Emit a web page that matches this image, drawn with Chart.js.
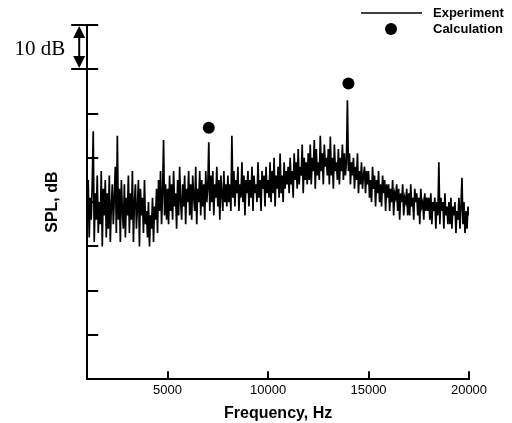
<!DOCTYPE html>
<html>
<head>
<meta charset="utf-8">
<script src="https://cdn.jsdelivr.net/npm/chart.js@4.4.1/dist/chart.umd.min.js"></script>
<style>
  html, body { margin: 0; padding: 0; background: #fff; }
  #wrap { width: 512px; height: 423px; }
</style>
</head>
<body>
<div id="wrap"><canvas id="c" width="512" height="423"></canvas></div>
<script>
// Frequency sampling grid of the measured spectrum (Hz)
const freqStart = 1000;
const freqStep = 50;
// Measured SPL (dB), one value per 50 Hz from 1000 Hz to 20000 Hz
const splExperiment = [
  38,45,32,41,36,44,56,31,42,36,46,33,40,35,47,30,43,37,45,32,
  42,34,46,31,39,44,35,41,48,33,55,36,43,31,45,38,34,44,32,41,
  37,46,33,42,36,47,31,40,44,34,39,45,30,43,37,41,33,45,35,38,
  32,40,30,37,34,41,31,39,36,43,33,45,38,47,35,42,54,37,44,36,
  43,35,46,38,44,36,47,39,42,34,45,37,48,40,36,44,39,46,35,43,
  40,47,37,44,36,46,41,38,48,35,43,40,47,37,45,39,44,36,47,40,
  43,53.5,38,46,40,47,37,44,41,48,39,45,36,46,42,38,47,40,44,39,
  46,40,44,38,55,41,47,39,45,42,48,38,44,41,49,40,46,37,45,42,
  47,39,45,41,48,38,46,42,44,40,49,41,45,38,47,43,46,39,48,42,
  45,41,49,40,47,42,50,39,46,43,48,41,51,42,46,40,49,43,47,44,
  48,42,50,44,47,41,51,45,49,43,52,44,48,46,53,42,50,45,49,44,
  51,45,53,44,50,47,54,43,52,46,49,45,55,47,51,44,53,48,50,46,
  52,44,54.8,46,50,43,53,47,49,45,52,44,50,47,53,45,51,46,49,63,
  47,51,44,49,46,50,43,48,45,51,42,47,44,49,43,46,48,42,47,44,
  47,41,45,40,48,43,46,39,45,42,47,40,44,39,46,42,45,38,44,41,
  44,38,43,40,45,37,42,41,44,38,43,36,42,40,44,37,41,40,43,37,
  42,37,44,39,41,36,43,40,42,37,41,35,43,39,40,36,42,38,41,38,
  41,36,42,35,40,38,41,34,40,37,49,35,41,38,40,34,42,37,39,35,
  40,35,41,34,39,37,40,33,38,36,41,34,39,45.5,35,40,33,38,34,39,
  37
];
// Calculated tones
const calcFreq = [7050, 14000];
const calcSPL = [56.8, 66.8];
// Axis ticks
const xTickValues = [5000, 10000, 15000, 20000];
const yTickValues = [0, 10, 20, 30, 40, 50, 60, 70, 80];

const expPoints = splExperiment.map((v, i) => ({ x: freqStart + i * freqStep, y: v }));
const calcPoints = calcFreq.map((f, i) => ({ x: f, y: calcSPL[i] }));

function seg(ctx, x1, y1, x2, y2) {
  ctx.beginPath(); ctx.moveTo(x1, y1); ctx.lineTo(x2, y2); ctx.stroke();
}

const overlay = {
  id: 'overlay',
  afterDraw(chart) {
    const { ctx, chartArea: a, scales: { x, y } } = chart;
    ctx.save();
    ctx.strokeStyle = '#000';
    ctx.fillStyle = '#000';
    ctx.lineWidth = 2;
    // inward tick marks
    yTickValues.forEach(v => {
      if (v === yTickValues[0]) return;
      const py = Math.round(y.getPixelForValue(v));
      seg(ctx, a.left, py, a.left + 11, py);
    });
    xTickValues.forEach(v => {
      const px = Math.round(x.getPixelForValue(v));
      seg(ctx, px, a.bottom, px, a.bottom - 8);
    });
    // 10 dB scale marker
    const yTop = Math.round(y.getPixelForValue(80));
    const yBot = Math.round(y.getPixelForValue(70));
    const ax = a.left - 8;
    seg(ctx, a.left - 16, yTop, a.left, yTop);
    seg(ctx, a.left - 16, yBot, a.left, yBot);
    seg(ctx, ax, yTop + 8, ax, yBot - 8);
    ctx.beginPath();
    ctx.moveTo(ax, yTop + 1); ctx.lineTo(ax - 6, yTop + 13); ctx.lineTo(ax + 6, yTop + 13); ctx.closePath(); ctx.fill();
    ctx.beginPath();
    ctx.moveTo(ax, yBot - 1); ctx.lineTo(ax - 6, yBot - 13); ctx.lineTo(ax + 6, yBot - 13); ctx.closePath(); ctx.fill();
    ctx.font = '21px "Liberation Serif", "Times New Roman", serif';
    ctx.textAlign = 'right';
    ctx.textBaseline = 'middle';
    ctx.fillText('10 dB', a.left - 22, (yTop + yBot) / 2 + 2);
    // legend
    ctx.font = 'bold 13px "Liberation Sans", Arial, sans-serif';
    ctx.textAlign = 'left';
    ctx.lineWidth = 1.5;
    seg(ctx, 361, 13, 422, 13);
    ctx.fillText('Experiment', 433, 13);
    ctx.beginPath(); ctx.arc(391, 29, 6, 0, Math.PI * 2); ctx.fill();
    ctx.fillText('Calculation', 433, 29);
    ctx.restore();
  }
};

new Chart(document.getElementById('c'), {
  type: 'scatter',
  data: {
    datasets: [
      {
        label: 'Experiment',
        data: expPoints,
        showLine: true,
        borderColor: '#000',
        borderWidth: 1.7,
        pointRadius: 0,
        tension: 0
      },
      {
        label: 'Calculation',
        data: calcPoints,
        showLine: false,
        pointRadius: 6,
        pointBackgroundColor: '#000',
        pointBorderColor: '#000',
        pointBorderWidth: 0
      }
    ]
  },
  options: {
    responsive: false,
    animation: false,
    layout: { padding: { left: 0, right: 43, top: 25, bottom: 0 } },
    plugins: { legend: { display: false }, tooltip: { enabled: false } },
    scales: {
      x: {
        type: 'linear',
        min: 1000,
        max: 20000,
        afterBuildTicks: s => { s.ticks = xTickValues.map(v => ({ value: v })); },
        grid: { display: false, drawTicks: false },
        border: { display: true, color: '#000', width: 2 },
        ticks: {
          color: '#000',
          padding: 3,
          maxRotation: 0,
          font: { family: '"Liberation Sans", Arial, sans-serif', size: 13 },
          callback: v => String(v)
        },
        title: {
          display: true,
          text: 'Frequency, Hz',
          color: '#000',
          padding: { top: 3, bottom: 0 },
          font: { family: '"Liberation Sans", Arial, sans-serif', size: 16, weight: 'bold' }
        }
      },
      y: {
        type: 'linear',
        min: 0,
        max: 80,
        afterBuildTicks: s => { s.ticks = yTickValues.map(v => ({ value: v })); },
        grid: { display: false, drawTicks: false },
        border: { display: true, color: '#000', width: 2 },
        ticks: { display: false },
        title: {
          display: true,
          text: 'SPL, dB',
          color: '#000',
          padding: { top: 43, bottom: 25 },
          font: { family: '"Liberation Sans", Arial, sans-serif', size: 16, weight: 'bold' }
        }
      }
    }
  },
  plugins: [overlay]
});
</script>
</body>
</html>
